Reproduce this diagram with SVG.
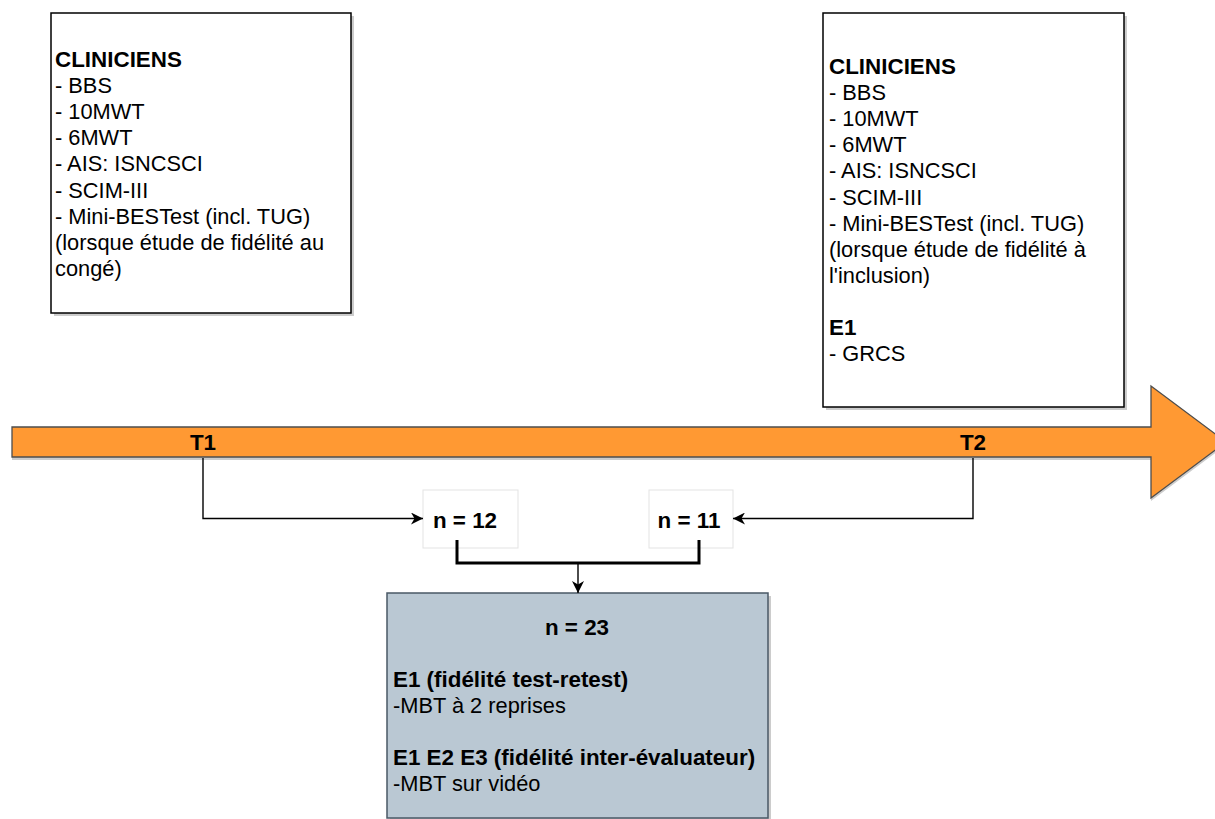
<svg xmlns="http://www.w3.org/2000/svg" width="1215" height="819" viewBox="0 0 1215 819">
<style>
text{font-family:"Liberation Sans",Arial,Helvetica,sans-serif;font-size:21.8px;fill:#000}
.b{font-weight:bold;font-size:22.4px}
.box{fill:#fff;stroke:#000;stroke-width:1.5}
.sh{fill:#000;opacity:0.2}
.small{fill:#fff;stroke:#e3e3e3;stroke-width:1}
.c{fill:none;stroke:#000;stroke-width:1.4}
.ct{fill:none;stroke:#000;stroke-width:3}
</style>
<defs>
<marker id="ah" viewBox="0 0 12 12" refX="12" refY="6" markerWidth="12" markerHeight="12" markerUnits="userSpaceOnUse" orient="auto">
<path d="M0,0 L12,6 L0,12 L3.5,6 z" fill="#000"/>
</marker>
</defs>
<g id="timeline">
<polygon class="sh" points="12,430 1151,430 1151,389 1226,445 1151,501 1151,460 12,460"/>
<polygon points="12,427 1151,427 1151,386 1226,442 1151,498 1151,457 12,457" fill="#FF9933" stroke="#4d4d4d" stroke-width="1.3"/>
<text class="b" x="203" y="450" text-anchor="middle">T1</text>
<text class="b" x="973" y="450" text-anchor="middle">T2</text>
</g>
<g id="box-t1">
<rect class="sh" x="54" y="16" width="300" height="300"/>
<rect class="box" x="51" y="13" width="300" height="300"/>
<text x="55" y="67"><tspan class="b">CLINICIENS</tspan><tspan x="55" dy="26.1">- BBS</tspan><tspan x="55" dy="26.1">- 10MWT</tspan><tspan x="55" dy="26.1">- 6MWT</tspan><tspan x="55" dy="26.1">- AIS: ISNCSCI</tspan><tspan x="55" dy="26.1">- SCIM-III</tspan><tspan x="55" dy="26.1">- Mini-BESTest (incl. TUG)</tspan><tspan x="55" dy="26.1">(lorsque étude de fidélité au</tspan><tspan x="55" dy="26.1">congé)</tspan></text>
</g>
<g id="box-t2">
<rect class="sh" x="826" y="16" width="301" height="394"/>
<rect class="box" x="823" y="13" width="301" height="394"/>
<text x="829" y="74"><tspan class="b">CLINICIENS</tspan><tspan x="829" dy="26.1">- BBS</tspan><tspan x="829" dy="26.1">- 10MWT</tspan><tspan x="829" dy="26.1">- 6MWT</tspan><tspan x="829" dy="26.1">- AIS: ISNCSCI</tspan><tspan x="829" dy="26.1">- SCIM-III</tspan><tspan x="829" dy="26.1">- Mini-BESTest (incl. TUG)</tspan><tspan x="829" dy="26.1">(lorsque étude de fidélité à</tspan><tspan x="829" dy="26.1">l'inclusion)</tspan><tspan x="829" dy="52.2" class="b">E1</tspan><tspan x="829" dy="26.1">- GRCS</tspan></text>
</g>
<g id="n12">
<rect class="small" x="423" y="490" width="95" height="58"/>
<text class="b" x="465" y="528" text-anchor="middle">n = 12</text>
</g>
<g id="n11">
<rect class="small" x="649" y="490" width="84" height="58"/>
<text class="b" x="689" y="528" text-anchor="middle">n = 11</text>
</g>
<g id="n23">
<rect class="sh" x="390" y="596" width="381" height="225"/>
<rect x="387" y="593" width="381" height="225" fill="#BAC8D3" stroke="#4a5866" stroke-width="1.5"/>
<text class="b" x="577" y="635" text-anchor="middle">n = 23</text>
<text x="393" y="687"><tspan class="b">E1 (fidélité test-retest)</tspan><tspan x="393" dy="26.1">-MBT à 2 reprises</tspan><tspan x="393" dy="52.2" class="b">E1 E2 E3 (fidélité inter-évaluateur)</tspan><tspan x="393" dy="26.1">-MBT sur vidéo</tspan></text>
</g>
<g id="connectors">
<path class="c" d="M203 458 V518.5 H423" marker-end="url(#ah)"/>
<path class="c" d="M973 458 V518.5 H733" marker-end="url(#ah)"/>
<path class="ct" d="M457 540 V563 H699 V540"/>
<path class="c" d="M578 563 V593" marker-end="url(#ah)"/>
</g>
</svg>
